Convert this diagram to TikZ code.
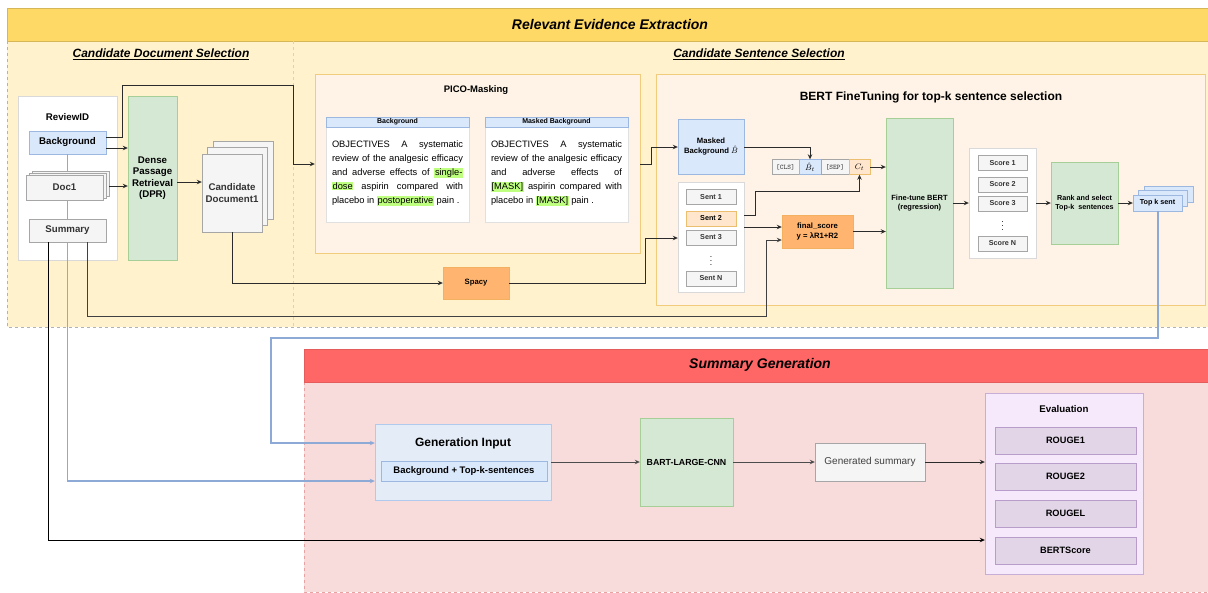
\documentclass[tikz,border=0pt]{standalone}
\usepackage{fontspec}
\setmainfont{Liberation Sans}
\usetikzlibrary{arrows.meta}

\definecolor{hdryellow}{HTML}{FFD966}
\definecolor{lightyellow}{HTML}{FFF2CC}
\definecolor{yellowline}{HTML}{D6B656}
\definecolor{creambox}{HTML}{FEF3E6}
\definecolor{creamline}{HTML}{F0CC7C}
\definecolor{blfill}{HTML}{DAE8FC}
\definecolor{blline}{HTML}{9DB8E0}
\definecolor{grfill}{HTML}{D5E8D4}
\definecolor{grline}{HTML}{A6CF98}
\definecolor{gyfill}{HTML}{F5F5F5}
\definecolor{gyline}{HTML}{A6A6A6}
\definecolor{orfill}{HTML}{FFB570}
\definecolor{orline}{HTML}{F2B060}
\definecolor{peach}{HTML}{FFE6CC}
\definecolor{peachline}{HTML}{EBBE70}
\definecolor{redhdr}{HTML}{FF6666}
\definecolor{redbody}{HTML}{F8DBDB}
\definecolor{redline}{HTML}{E8A2A2}
\definecolor{purfill}{HTML}{E1D5E7}
\definecolor{purline}{HTML}{B89CC9}
\definecolor{evalfill}{HTML}{F6E9FC}
\definecolor{evalline}{HTML}{C6AED6}
\definecolor{genfill}{HTML}{E4ECF7}
\definecolor{genline}{HTML}{B0CAEE}
\definecolor{wirecol}{HTML}{2B2B2B}
\definecolor{bluewire}{HTML}{8DA9D6}
\definecolor{hlgreen}{HTML}{BFFF80}

\newcommand{\hlg}[1]{{\setlength{\fboxsep}{0.6pt}\colorbox{hlgreen}{#1}}}

\tikzset{
  nodebox/.style={draw, rectangle, inner sep=1pt, align=center},
  bluebox/.style={nodebox, fill=blfill, draw=blline},
  greenbox/.style={nodebox, fill=grfill, draw=grline},
  greybox/.style={nodebox, fill=gyfill, draw=gyline, text=black!80},
  whitebox/.style={nodebox, fill=white, draw=black!15},
  orangebox/.style={nodebox, fill=orfill, draw=orline},
  peachbox/.style={nodebox, fill=peach, draw=peachline},
  purplebox/.style={nodebox, fill=purfill, draw=purline},
  panel/.style={nodebox, fill=creambox, draw=creamline},
  vdotsnode/.style={inner sep=0pt, font=\fontsize{8.5}{8.5}\selectfont},
  fbig/.style={font=\fontsize{9.7}{11.5}\selectfont\bfseries},
  fsmall/.style={font=\fontsize{7.2}{9}\selectfont\bfseries},
  ftoken/.style={font=\fontsize{7}{8}\selectfont\ttfamily},
  ftitle/.style={font=\fontsize{14}{16}\selectfont\bfseries\itshape},
  fsub/.style={font=\fontsize{12}{14}\selectfont\bfseries\itshape},
  cardtext/.style={text width=131pt, align=justify, inner sep=0pt, font=\fontsize{9.3}{14}\selectfont},
  wire/.style={draw=wirecol, line width=1pt},
  wirearr/.style={wire, -{Stealth[length=5pt, width=4.5pt]}},
  bluearr/.style={draw=bluewire, line width=1.1pt, -{Stealth[length=5pt, width=4.5pt]}},
}

\begin{document}
\begin{tikzpicture}[x=1pt, y=-1pt]
\useasboundingbox (0,0) rectangle (1208,592);

% Relevant Evidence Extraction
\draw[fill=lightyellow, draw=black!30, dashed] (7,41) rectangle (1208,327);
\draw[fill=hdryellow, draw=yellowline] (7,8) rectangle (1208,41);
\draw[dashed, draw=yellowline!60] (293,41) -- (293,327);
\node[ftitle] (ree) at (610,24) {Relevant Evidence Extraction};
\node[fsub] (cds) at (161,54) {\underline{Candidate Document Selection}};
\node[fsub] (css) at (759,54) {\underline{Candidate Sentence Selection}};

% Summary Generation
\draw[fill=redbody, draw=redline, dashed] (304,382) rectangle (1208,592);
\draw[fill=redhdr, draw=redhdr!90!black] (304,349) rectangle (1208,382);
\node[ftitle] (sgt) at (760,365) {Summary Generation};

% candidate documents
\node[whitebox, minimum width=99, minimum height=164] (rev) at (67.5,178) {};
\node[fbig] (revid) at (67.5,117) {ReviewID};
\node[bluebox, fbig, minimum width=77, minimum height=23] (bg) at (67.5,142.5) {Background};

% generation input
\node[nodebox, fill=genfill, draw=genline, minimum width=176, minimum height=76] (gin) at (463,462) {};
\node[font=\fontsize{12}{14}\selectfont\bfseries] (gint) at (463,443) {Generation Input};
\node[bluebox, font=\fontsize{9.5}{11}\selectfont\bfseries, minimum width=166, minimum height=20] (ginb) at (464,471.5) {Background + Top-k-sentences};
\draw[bluearr] (bg.south) |- (gin.west |- 0,481);

\node[greybox, minimum width=77, minimum height=25] (doc1b) at (70.5,183.5) {};
\node[greybox, minimum width=77, minimum height=25] (doc1a) at (67.5,185.5) {};
\node[greybox, fbig, minimum width=77, minimum height=25] (doc1) at (64.5,187.5) {Doc1};
\node[greybox, fbig, minimum width=77, minimum height=23] (summ) at (67.5,230.5) {Summary};

\node[greenbox, fbig, minimum width=49, minimum height=164] (dpr) at (152.5,178) {Dense\\Passage\\Retrieval\\(DPR)};

\node[greybox, minimum width=60, minimum height=78] (cdb) at (243,180) {};
\node[greybox, minimum width=60, minimum height=78] (cda) at (237.5,186.5) {};
\node[greybox, fbig, minimum width=60, minimum height=78] (cd) at (232,193) {Candidate\\Document1};

\draw[wirearr] (bg.east |- 0,148) -- (dpr.west |- 0,148);
\draw[wirearr] (doc1b.east |- 0,186) -- (dpr.west |- 0,186);
\draw[wirearr] (dpr.east |- 0,182) -- (cd.west |- 0,182);

% PICO masking
\node[panel, minimum width=325, minimum height=179] (pico) at (477.5,163.5) {};
\node[font=\fontsize{9.5}{11}\selectfont\bfseries] (picot) at (476,90) {PICO-Masking};
\node[whitebox, draw=black!12, minimum width=143, minimum height=105] (card1) at (397.5,169.5) {};
\node[bluebox, font=\fontsize{7}{8}\selectfont\bfseries, minimum width=143, minimum height=10, anchor=north] (card1h) at (card1.north) {Background};
\node[cardtext] (card1t) at (397.5,173) {OBJECTIVES A systematic\linebreak review of the analgesic efficacy\linebreak and adverse effects of \hlg{single-}\linebreak \hlg{dose} aspirin compared with\linebreak placebo in \hlg{postoperative} pain .};
\node[whitebox, draw=black!12, minimum width=143, minimum height=105] (card2) at (556.5,169.5) {};
\node[bluebox, font=\fontsize{7}{8}\selectfont\bfseries, minimum width=143, minimum height=10, anchor=north] (card2h) at (card2.north) {Masked Background};
\node[cardtext] (card2t) at (556.5,173) {OBJECTIVES A systematic\linebreak review of the analgesic efficacy\linebreak and adverse effects of\linebreak \hlg{[MASK]} aspirin compared with\linebreak placebo in \hlg{[MASK]} pain .};

\draw[wirearr] (bg.east |- 0,137) -| (122,85) -| (293,164) -- (pico.west |- 0,164);

% spacy
\node[orangebox, font=\fontsize{7.7}{9}\selectfont\bfseries, minimum width=66, minimum height=32] (spacy) at (476,283) {Spacy};
\draw[wirearr] (cd.south) |- (spacy.west);

% BERT fine tuning
\node[panel, minimum width=549, minimum height=231] (bert) at (930.5,189.5) {};
\node[font=\fontsize{12}{14}\selectfont\bfseries] (bertt) at (931,97) {BERT FineTuning for top-k sentence selection};

\node[bluebox, font=\fontsize{7.7}{10}\selectfont\bfseries, minimum width=66, minimum height=55] (mb) at (711,146.5) {Masked\\Background $\hat{B}$};

\node[greybox, ftoken, minimum width=27, minimum height=15] (cls) at (785.5,167) {[CLS]};
\node[bluebox, font=\fontsize{8}{9}\selectfont, minimum width=22, minimum height=15] (bt) at (810,167) {$\hat{B}_t$};
\node[greybox, ftoken, minimum width=28, minimum height=15] (sep) at (835,167) {[SEP]};
\node[peachbox, font=\fontsize{8}{9}\selectfont, minimum width=21, minimum height=15] (ct) at (859.5,167) {$C_t$};

\node[whitebox, minimum width=66, minimum height=110] (sents) at (711,237) {};
\node[greybox, fsmall, minimum width=50, minimum height=15] (s1) at (711,197) {Sent 1};
\node[peachbox, fsmall, minimum width=50, minimum height=15] (s2) at (711,218.5) {Sent 2};
\node[greybox, fsmall, minimum width=50, minimum height=15] (s3) at (711,237.5) {Sent 3};
\node[vdotsnode] (sdots) at (711,258.5) {$\vdots$};
\node[greybox, fsmall, minimum width=50, minimum height=15] (sn) at (711,278.5) {Sent N};

\node[orangebox, font=\fontsize{7.7}{10}\selectfont\bfseries, minimum width=71, minimum height=33] (fs) at (817.5,231.5) {final\_score\\y = λR1+R2};

\node[greenbox, font=\fontsize{7.5}{9.5}\selectfont\bfseries, minimum width=67, minimum height=170] (ft) at (919.5,203) {Fine-tune BERT\\(regression)};

\node[whitebox, minimum width=67, minimum height=110] (scores) at (1002.5,203) {};
\node[greybox, fsmall, minimum width=49, minimum height=15] (sc1) at (1002.5,163) {Score 1};
\node[greybox, fsmall, minimum width=49, minimum height=15] (sc2) at (1002.5,184.5) {Score 2};
\node[greybox, fsmall, minimum width=49, minimum height=15] (sc3) at (1002.5,203.5) {Score 3};
\node[vdotsnode] (scdots) at (1002.5,223.5) {$\vdots$};
\node[greybox, fsmall, minimum width=49, minimum height=15] (scn) at (1002.5,243.5) {Score N};

\node[greenbox, fsmall, minimum width=67, minimum height=82] (rank) at (1084.5,203) {Rank and select\\Top-k\ \ sentences};

\node[bluebox, minimum width=49, minimum height=16] (topkb) at (1168.5,194) {};
\node[bluebox, minimum width=49, minimum height=16] (topka) at (1163,198.5) {};
\node[bluebox, fsmall, minimum width=49, minimum height=16] (topk) at (1157.5,203) {Top k sent};

% connectors
\draw[wirearr] (spacy.east) -| (645,238) -- (sents.west |- 0,238);
\draw[wirearr] (pico.east |- 0,164) -| (651,147) -- (mb.west |- 0,147);
\draw[wirearr] (mb.east |- 0,147) -| (bt.north);
\draw[wirearr] (sents.east |- 0,215) -| (755,191) -| (ct.south);
\draw[wirearr] (sents.east |- 0,227) -- (fs.west |- 0,227);
\draw[wirearr, draw=black!75] (summ.south -| 87,0) |- (766,316) |- (fs.west |- 0,240);
\draw[wirearr] (ct.east) -- (ft.west |- ct.east);
\draw[wirearr] (fs.east) -- (ft.west |- fs.east);
\draw[wirearr] (ft.east |- 0,203) -- (scores.west |- 0,203);
\draw[wirearr] (scores.east |- 0,203) -- (rank.west |- 0,203);
\draw[wirearr] (rank.east |- 0,203) -- (topk.west |- 0,203);
\draw[bluearr] (topk.south -| 1158,0) |- (271,338) |- (gin.west |- 0,443);

% summary generation
\node[greenbox, font=\fontsize{8.8}{10}\selectfont\bfseries, minimum width=93, minimum height=88] (bart) at (686.5,462) {BART-LARGE-CNN};
\node[greybox, font=\fontsize{10}{12}\selectfont, text=black!75, minimum width=110, minimum height=38] (gsum) at (870,462) {Generated summary};

\node[nodebox, fill=evalfill, draw=evalline, minimum width=158, minimum height=181] (eval) at (1064,483.5) {};
\node[fbig] (evalt) at (1064,409) {Evaluation};
\node[purplebox, font=\fontsize{9.2}{11}\selectfont\bfseries, minimum width=141, minimum height=27] (r1) at (1065.5,440.5) {ROUGE1};
\node[purplebox, font=\fontsize{9.2}{11}\selectfont\bfseries, minimum width=141, minimum height=27] (r2) at (1065.5,476.5) {ROUGE2};
\node[purplebox, font=\fontsize{9.2}{11}\selectfont\bfseries, minimum width=141, minimum height=27] (rl) at (1065.5,513.5) {ROUGEL};
\node[purplebox, font=\fontsize{9.2}{11}\selectfont\bfseries, minimum width=141, minimum height=27] (bs) at (1065.5,550.5) {BERTScore};

\draw[wirearr, draw=black!70] (gin.east |- 0,462) -- (bart.west |- 0,462);
\draw[wirearr, draw=black!70] (bart.east |- 0,462) -- (gsum.west |- 0,462);
\draw[wirearr] (gsum.east |- 0,462) -- (eval.west |- 0,462);
\draw[wirearr, draw=black] (summ.south -| 48,0) |- (eval.west |- 0,540);
\end{tikzpicture}
\end{document}
